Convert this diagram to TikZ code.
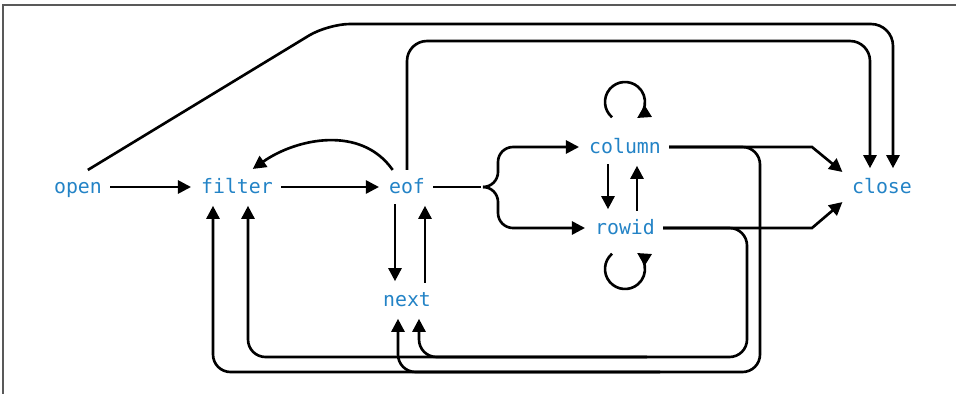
\documentclass[tikz,border=0pt]{standalone}
\usepackage{fontspec}
\setmonofont{DejaVu Sans Mono}
\usetikzlibrary{arrows.meta,positioning}
\definecolor{fnblue}{RGB}{35,131,198}

\begin{document}
\begin{tikzpicture}[shorten >=1pt,on grid,>={Triangle[length=7.5pt,width=7.5pt]},
line width=1.5pt,
func/.style={text=fnblue,font=\ttfamily\fontsize{11.3}{13}\selectfont,
    inner sep=4pt,text height=2ex,text depth=.3ex}]
\useasboundingbox (0,0) rectangle (19.16,-7.88);
\draw[line width=1pt,black!65] (0.06,-7.88) -- (0.06,-0.1) -- (19.16,-0.1);

\node[func] (open) at (1.56,-3.74) {open};
\node[func] (filter) [right=3.18cm of open] {filter};
\node[func] (eof) [right=3.4cm of filter] {eof};
\node[func] (next) [below=2.26cm of eof] {next};
\node[func] (column) [above right=0.8cm and 4.36cm of eof] {column};
\node[func] (rowid) [below=1.62cm of column] {rowid};
\node[func] (close) [right=9.5cm of eof] {close};
\node[coordinate] (fork) [right=1.52cm of eof] {};
\node[coordinate] (P1) [left=1.4cm of close] {};
\node[coordinate] (T1) [above right=3.26cm and 5cm of open] {};
\node[coordinate] (T2) [above=2.92cm of eof] {};
\node[coordinate] (B1) [below right=1.44cm and 7.06cm of next] {};
\node[coordinate] (B2) [below right=1.14cm and 6.8cm of next] {};

\path[->] (open) edge (filter)
          (filter) edge (eof)
          (eof.130) edge [out=125,in=35] (filter.50);

\draw[->] ([xshift=-0.24cm]eof.south) -- ([xshift=-0.24cm]next.north);
\draw[->] ([xshift=0.36cm]next.north) -- ([xshift=0.36cm]eof.south);
\draw[->] ([xshift=-0.34cm]column.south) -- ([xshift=-0.34cm]rowid.north);
\draw[->] ([xshift=0.24cm]rowid.north) -- ([xshift=0.24cm]column.south);

% eof splits to column and rowid
\draw (eof) -- (fork);
\draw[->,rounded corners=0.3cm] (fork) -- ++(0.3,0) |- (column);
\draw[->,rounded corners=0.3cm] (fork) -- ++(0.3,0) |- (rowid);

% self loops
\draw[->] ([yshift=0.9cm]column.center) ++(230:0.4cm)
    arc[start angle=230,end angle=-58,radius=0.4cm];
\draw[->] ([yshift=-0.82cm]rowid.center) ++(130:0.4cm)
    arc[start angle=130,end angle=418,radius=0.4cm];

\draw[->] (column) -- (column -| P1) -- (close.160);
\draw[->] (rowid) -- (rowid -| P1) -- (close.200);

% over the top
\draw[->,rounded corners=0.44cm] (open.60) -- (T1) -| ([xshift=0.22cm]close.north);
\draw[->,rounded corners=0.4cm] (eof) -- (T2) -| ([xshift=-0.24cm]close.north);

% back round the bottom
\draw[->,rounded corners=0.35cm] (column) -| (B1) -| ([xshift=-0.48cm]filter.south);
\draw[->,rounded corners=0.35cm] ([xshift=-2cm]B1) -| ([xshift=-0.18cm]next.south);
\draw[->,rounded corners=0.35cm] (rowid) -| (B2) -| ([xshift=0.22cm]filter.south);
\draw[->,rounded corners=0.35cm] ([xshift=-2cm]B2) -| ([xshift=0.24cm]next.south);
\end{tikzpicture}
\end{document}
